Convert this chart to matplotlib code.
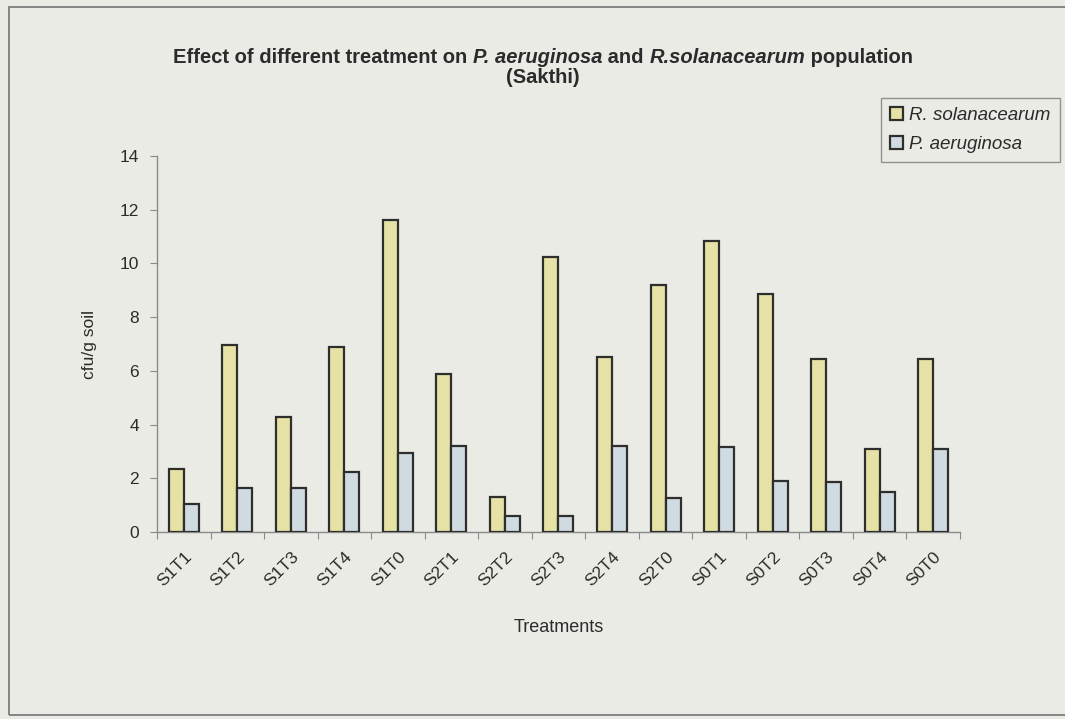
import numpy as np
import matplotlib
matplotlib.use('Agg')
import matplotlib.pyplot as plt
from matplotlib.patches import Rectangle

# ── datos ────────────────────────────────────────────────────────────────────
treatments = ['S1T1', 'S1T2', 'S1T3', 'S1T4', 'S1T0',
              'S2T1', 'S2T2', 'S2T3', 'S2T4', 'S2T0',
              'S0T1', 'S0T2', 'S0T3', 'S0T4', 'S0T0']
r_solanacearum = [2.35, 6.95, 4.3, 6.9, 11.6, 5.9, 1.3, 10.25, 6.5, 9.2,
                  10.85, 8.85, 6.45, 3.1, 6.45]
p_aeruginosa = [1.05, 1.65, 1.65, 2.25, 2.95, 3.2, 0.6, 0.6, 3.2, 1.25,
                3.15, 1.9, 1.85, 1.5, 3.1]
y_ticks = [0, 2, 4, 6, 8, 10, 12, 14]

# ── paleta ───────────────────────────────────────────────────────────────────
BG      = '#ebebe6'
C_YEL   = '#e6e2a6'
C_BLUE  = '#cfdbe1'
C_EDGE  = '#2e2e2e'
C_AXIS  = '#8a8a8a'
C_TEXT  = '#2b2b2b'

plt.rcParams['font.family'] = ['Liberation Sans', 'DejaVu Sans']

fig = plt.figure(figsize=(10.65, 7.19), dpi=100, facecolor=BG)
ax = fig.add_axes([0.1474, 0.260, 0.754, 0.523])
ax.set_facecolor(BG)

x = np.arange(len(treatments))
w = 0.28
ax.bar(x - w / 2, r_solanacearum, w, color=C_YEL, edgecolor=C_EDGE,
       linewidth=1.6, label='R. solanacearum', zorder=3)
ax.bar(x + w / 2, p_aeruginosa, w, color=C_BLUE, edgecolor=C_EDGE,
       linewidth=1.6, label='P. aeruginosa', zorder=3)

ax.set_xlim(-0.5, len(treatments) - 0.5)
ax.set_ylim(0, 14)
ax.set_yticks(y_ticks)
ax.set_yticklabels([str(v) for v in y_ticks], fontsize=12.5, color=C_TEXT)

# ticks del eje x en los límites de cada categoría (estilo Excel)
ax.set_xticks(np.arange(len(treatments) + 1) - 0.5)
ax.set_xticklabels([])
ax.set_xticks(x, minor=True)
ax.set_xticklabels(treatments, minor=True, rotation=45, ha='right',
                   rotation_mode='anchor', fontsize=12.5, color=C_TEXT)
ax.tick_params(axis='x', which='minor', length=0, pad=12)
ax.tick_params(axis='x', which='major', length=5, color=C_AXIS, direction='out')
ax.tick_params(axis='y', length=5, color=C_AXIS, direction='out', pad=8)

for s in ['top', 'right']:
    ax.spines[s].set_visible(False)
for s in ['left', 'bottom']:
    ax.spines[s].set_color(C_AXIS)
    ax.spines[s].set_linewidth(1.0)

ax.set_ylabel('cfu/g soil', fontsize=12.5, color=C_TEXT, labelpad=16)
ax.set_xlabel('Treatments', fontsize=13, color=C_TEXT, labelpad=22)

# ── título con partes en cursiva ─────────────────────────────────────────────
partes = [('Effect of different treatment on ', 'normal'),
          ('P. aeruginosa', 'italic'),
          (' and ', 'normal'),
          ('R.solanacearum', 'italic'),
          (' population', 'normal')]
textos = []
for txt, estilo in partes:
    t = fig.text(0, 0, txt, fontsize=14.5, fontweight='bold', style=estilo,
                 color=C_TEXT, ha='left', va='baseline')
    textos.append(t)

# medir y colocar los fragmentos uno tras otro, centrados
fig.canvas.draw()
r = fig.canvas.get_renderer()
anchos = [t.get_window_extent(r).width for t in textos]
total = sum(anchos)
x0 = (fig.bbox.width - total) / 2 / fig.bbox.width + 0.01
y0 = 0.913
for t, a in zip(textos, anchos):
    t.set_position((x0, y0))
    x0 += a / fig.bbox.width

fig.text(0.51, 0.884, '(Sakthi)', fontsize=14.5, fontweight='bold',
         color=C_TEXT, ha='center', va='baseline')

leg = fig.legend(loc='upper right', bbox_to_anchor=(0.995, 0.864),
                 borderaxespad=0,
                 prop={'style': 'italic', 'size': 13.5}, frameon=True,
                 fancybox=False, handlelength=0.7, handleheight=0.7,
                 handletextpad=0.3, borderpad=0.5, labelspacing=0.6,
                 labelcolor=C_TEXT)
leg.get_frame().set_facecolor(BG)
leg.get_frame().set_edgecolor('#7a7a7a')
leg.get_frame().set_linewidth(1.0)

# marco exterior
fig.patches.append(Rectangle((9 / 1065, 4 / 719), 1.2, 708 / 719,
                             transform=fig.transFigure, fill=False,
                             edgecolor='#7d7d7d', linewidth=1.3))

fig.savefig('out.png', dpi=100, facecolor=BG)
